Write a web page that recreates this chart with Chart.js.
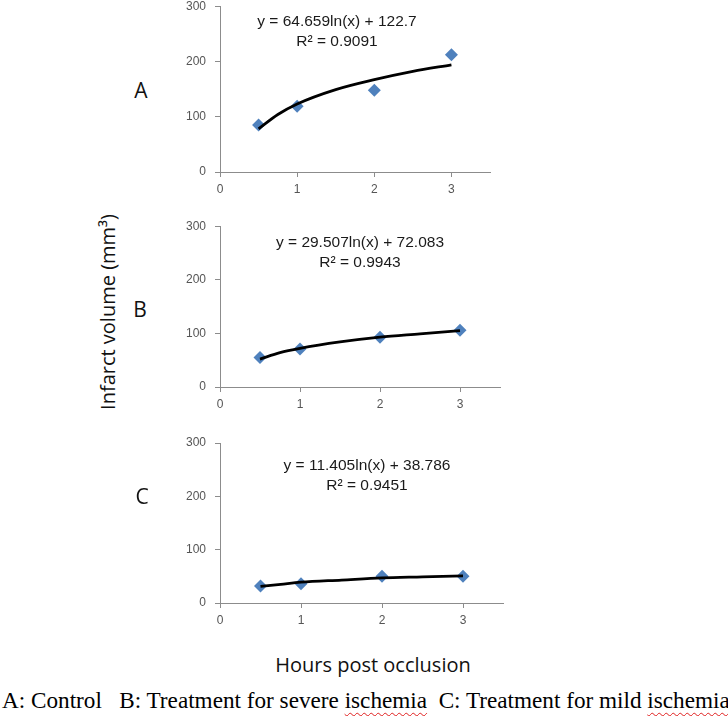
<!DOCTYPE html>
<html>
<head>
<meta charset="utf-8">
<script src="https://cdn.jsdelivr.net/npm/chart.js@4"></script>
<style>
  body { margin:0; background:#fff; width:728px; height:716px; position:relative; overflow:hidden; }
  .box { position:absolute; }
  .eq { position:absolute; font-family:"Liberation Sans", Arial, sans-serif; font-size:15.5px; color:#1a1a1a; text-align:center; width:240px; line-height:20px; }
  .tag { position:absolute; font-family:"Open Sans", sans-serif; font-size:21px; line-height:21px; color:#111; transform:translateX(-50%); }
  #ytitle { position:absolute; left:107px; top:312px; transform:translate(-50%,-50%) rotate(-90deg); white-space:nowrap;
            font-family:"Open Sans", sans-serif; font-size:20px; color:#111; }
  #xtitle { position:absolute; left:373px; top:664px; transform:translate(-50%,-50%); white-space:nowrap;
            font-family:"Open Sans", sans-serif; font-size:20px; color:#111; }
  #caption { position:absolute; left:2px; top:687px; white-space:pre; font-family:"Liberation Serif", "Times New Roman", serif; font-size:23.2px; color:#000; }
  .sq { text-decoration: underline wavy #e02020; text-decoration-thickness:1px; text-underline-offset:4px; }
</style>
</head>
<body>
<div class="box" style="left:180px;top:-10px;width:330px;height:210px"><canvas id="chartA"></canvas></div>
<div class="box" style="left:180px;top:210px;width:330px;height:210px"><canvas id="chartB"></canvas></div>
<div class="box" style="left:180px;top:420px;width:330px;height:220px"><canvas id="chartC"></canvas></div>

<div class="eq" style="left:217px;top:11px">y = 64.659ln(x) + 122.7<br>R² = 0.9091</div>
<div class="eq" style="left:240px;top:232px">y = 29.507ln(x) + 72.083<br>R² = 0.9943</div>
<div class="eq" style="left:247px;top:455px">y = 11.405ln(x) + 38.786<br>R² = 0.9451</div>

<div class="tag" style="left:141px;top:80px">A</div>
<div class="tag" style="left:140px;top:299px">B</div>
<div class="tag" style="left:142px;top:486px">C</div>

<div id="ytitle">Infarct volume (mm³)</div>
<div id="xtitle">Hours post occlusion</div>
<div id="caption">A: Control   B: Treatment for severe <span class="sq">ischemia</span>  C: Treatment for mild <span class="sq">ischemia</span></div>

<script>
// hours post occlusion
var hours = [0.5, 1, 2, 3];
// measured infarct volume (mm3)
var volumeA = [85, 119, 148, 212];
var volumeB = [55, 71, 93, 106];
var volumeC = [32, 36, 50, 50];
// log trendline
var trendHours = [0.5, 0.75, 1, 1.5, 2, 2.5, 3];
var trendA = [78, 104, 123, 149, 167, 182, 194];
var trendB = [52, 64, 72, 84, 93, 99, 105];
var trendC = [31, 35, 39, 43, 47, 49, 51];
var yTicks = [0, 100, 200, 300];
var xTicks = [0, 1, 2, 3];

function toXY(xs, ys){
    return xs.map(function(x, i){ return {x: x, y: ys[i]}; });
}

function makeChart(id, points, trend, pad, xHeight){
    new Chart(document.getElementById(id), {
        type: 'scatter',
        data: {
            datasets: [{
                data: toXY(trendHours, trend),
                showLine: true,
                borderColor: '#000',
                borderWidth: 2.75,
                pointRadius: 0,
                cubicInterpolationMode: 'monotone'
            }, {
                data: toXY(hours, points),
                pointStyle: 'rectRot',
                pointRadius: 6.5,
                pointHoverRadius: 6.5,
                backgroundColor: '#4F81BD',
                borderColor: '#4F81BD',
                borderWidth: 0
            }]
        },
        options: {
            responsive: true,
            maintainAspectRatio: false,
            animation: false,
            layout: { padding: pad },
            plugins: { legend: { display: false }, tooltip: { enabled: false } },
            scales: {
                x: {
                    min: 0, max: 3.5,
                    afterFit: function(s){ s.height = xHeight; },
                    afterBuildTicks: function(s){ s.ticks = xTicks.map(function(v){ return {value: v}; }); },
                    grid: { drawOnChartArea: false, color: '#8c8c8c', tickLength: 5 },
                    border: { color: '#8c8c8c' },
                    ticks: { color: '#555', padding: 5, font: { family: 'Liberation Sans', size: 12 } }
                },
                y: {
                    min: 0, max: 300,
                    afterFit: function(s){ s.width = 40; },
                    afterBuildTicks: function(s){ s.ticks = yTicks.map(function(v){ return {value: v}; }); },
                    grid: { drawOnChartArea: false, color: '#8c8c8c', tickLength: 5 },
                    border: { color: '#8c8c8c' },
                    ticks: { color: '#555', padding: 9, font: { family: 'Liberation Sans', size: 12 } }
                }
            }
        }
    });
}

makeChart('chartA', volumeA, trendA, {top: 5, right: 20, left: 0, bottom: 0}, 28);
makeChart('chartB', volumeB, trendB, {top: 13, right: 10, left: 0, bottom: 0}, 33);
makeChart('chartC', volumeC, trendC, {top: 23, right: 5, left: 0, bottom: 0}, 37);
</script>
</body>
</html>
